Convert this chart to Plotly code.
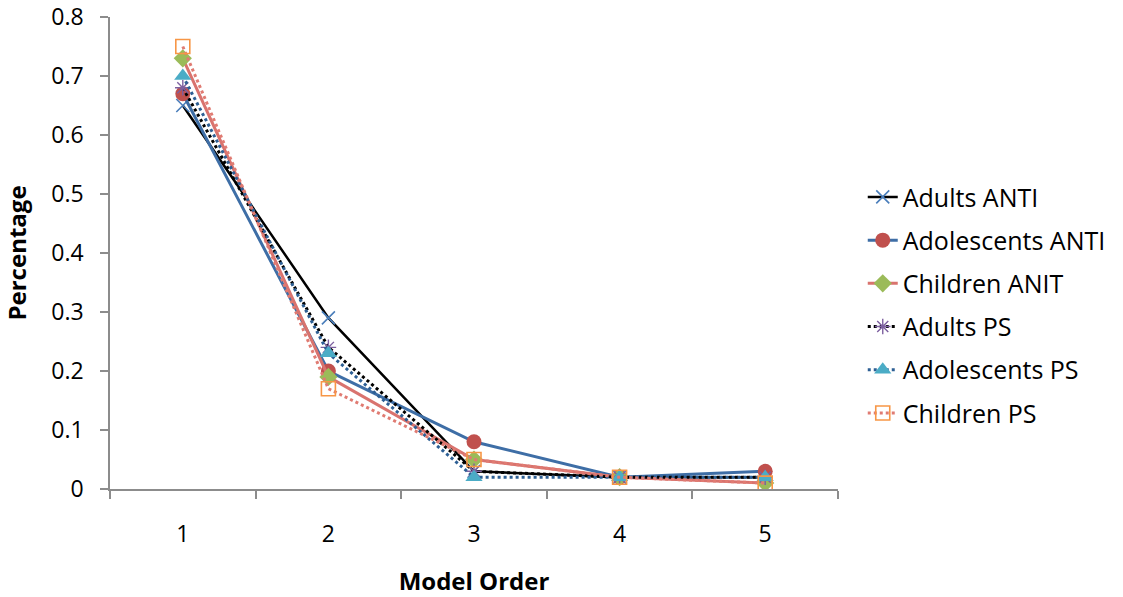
import plotly.graph_objects as go

model_order = ["1", "2", "3", "4", "5"]
y_ticks = [0, 0.1, 0.2, 0.3, 0.4, 0.5, 0.6, 0.7, 0.8]

adults_anti = [0.65, 0.29, 0.03, 0.02, 0.02]
adolescents_anti = [0.67, 0.20, 0.08, 0.02, 0.03]
children_anit = [0.73, 0.19, 0.05, 0.02, 0.01]
adults_ps = [0.68, 0.24, 0.03, 0.02, 0.02]
adolescents_ps = [0.70, 0.23, 0.02, 0.02, 0.02]
children_ps = [0.75, 0.17, 0.05, 0.02, 0.01]

FONT = "Open Sans"

series = [
    ("Adults ANTI", adults_anti, dict(color="#000000", width=2.5, dash="solid"),
     dict(symbol="x-thin", size=13, color="#4a7ebb", line=dict(color="#4a7ebb", width=1.6))),
    ("Adolescents ANTI", adolescents_anti, dict(color="#3e6ea6", width=3, dash="solid"),
     dict(symbol="circle", size=15, color="#c0504d", line=dict(width=0))),
    ("Children ANIT", children_anit, dict(color="#d9736e", width=3, dash="solid"),
     dict(symbol="diamond", size=14, color="#9bbb59", line=dict(width=0))),
    ("Adults PS", adults_ps, dict(color="#000000", width=3, dash="dot"),
     dict(symbol="asterisk-open", size=13, color="#7d60a0", line=dict(color="#7d60a0", width=1.4))),
    ("Adolescents PS", adolescents_ps, dict(color="#2d5f94", width=3, dash="dot"),
     dict(symbol="triangle-up", size=15, color="#4bacc6", line=dict(width=0))),
    ("Children PS", children_ps, dict(color="#e07b72", width=3, dash="dot"),
     dict(symbol="square-open", size=14, color="#f79646", line=dict(color="#f79646", width=1.6))),
]

fig = go.Figure()
for i, (name, vals, line, marker) in enumerate(series):
    fig.add_trace(go.Scatter(
        x=model_order, y=vals, name=name, mode="lines+markers",
        line=line, marker=marker, legendgroup=f"g{i}",
    ))

fig.update_layout(
    width=1123, height=597, autosize=False,
    margin=dict(l=110, r=267, t=17, b=108),
    plot_bgcolor="white", paper_bgcolor="white",
    font=dict(family=FONT, size=23, color="#000000"),
    legend=dict(
        x=1.034, y=0.667, xanchor="left", yanchor="top",
        font=dict(family=FONT, size=25, color="#000000"),
        tracegroupgap=7.7, bgcolor="rgba(0,0,0,0)",
    ),
    xaxis=dict(
        type="category", range=[-0.5, 4.5], tickson="boundaries",
        showline=True, linecolor="#8c8c8c", linewidth=1.5,
        ticks="outside", ticklen=8, tickcolor="#8c8c8c", tickwidth=1.5,
        showgrid=False, zeroline=False, ticklabelstandoff=24, automargin=False,
        tickfont=dict(family=FONT, size=23),
        title=dict(text="<b>Model Order</b>", font=dict(family=FONT, size=24), standoff=25),
    ),
    yaxis=dict(
        range=[0, 0.8], tickvals=y_ticks, ticktext=[("0" if v == 0 else f"{v:.1f}") for v in y_ticks],
        showline=True, linecolor="#8c8c8c", linewidth=1.5,
        ticks="outside", ticklen=8, tickcolor="#8c8c8c", tickwidth=1.5,
        showgrid=False, zeroline=False, ticklabelstandoff=12, automargin=False,
        ticklabeloverflow="allow",
        tickfont=dict(family=FONT, size=23),
        title=dict(text="<b>Percentage</b>", font=dict(family=FONT, size=24), standoff=20),
    ),
)

fig.write_html(
    "out.html",
    config={"displayModeBar": False, "responsive": False},
    post_script="document.body.style.margin='0px';document.body.style.overflow='hidden';",
)
